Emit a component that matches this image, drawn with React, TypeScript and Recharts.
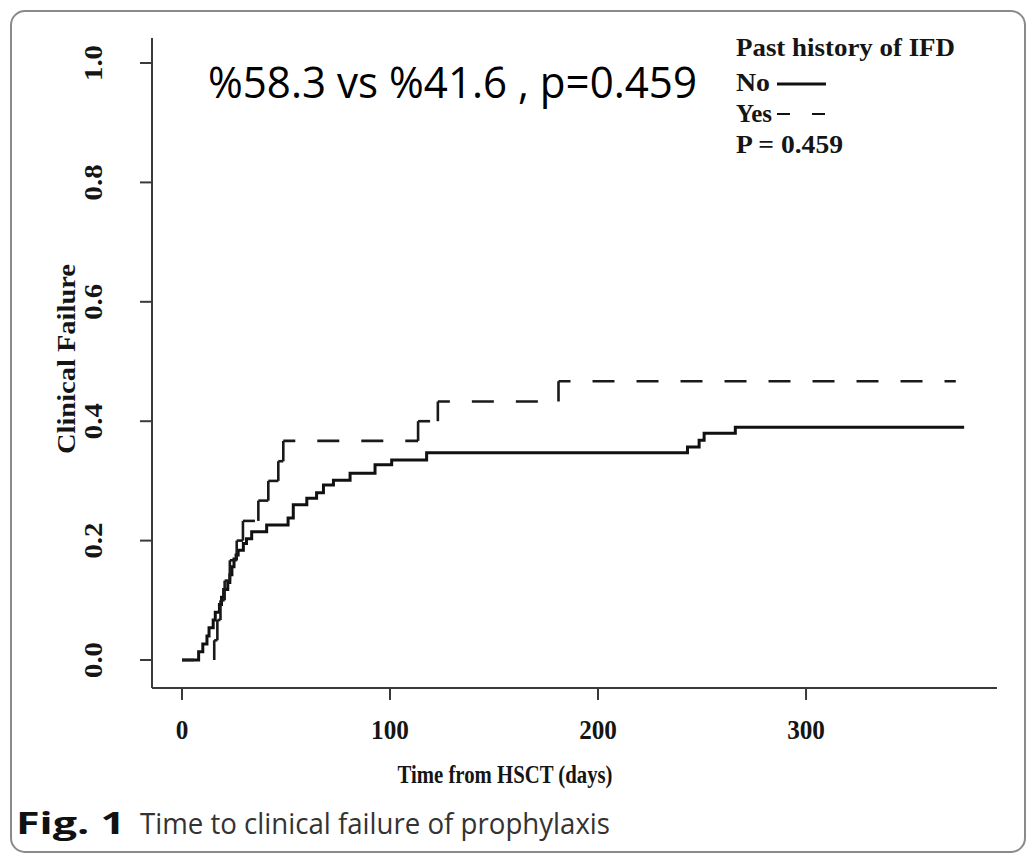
import React from "react";
import { LineChart, Line, XAxis, YAxis } from "recharts";

// ---- data ----
const noTimes = [0, 8, 10, 12, 13, 15, 16, 18, 19, 20, 22, 23, 24, 25, 26, 27, 29.5, 31, 33.5, 40.7, 51, 53.5, 60, 64.7, 68, 72.8, 80.8, 92.8, 100.8, 117.6, 243, 248.6, 251, 266, 376];
const noValues = [0, 0.014, 0.027, 0.04, 0.054, 0.067, 0.08, 0.093, 0.105, 0.118, 0.13, 0.143, 0.156, 0.169, 0.176, 0.184, 0.195, 0.203, 0.215, 0.226, 0.238, 0.26, 0.271, 0.28, 0.293, 0.301, 0.313, 0.327, 0.335, 0.347, 0.357, 0.368, 0.38, 0.39, 0.39];

const yesTimes = [0, 15.5, 17, 18.5, 20.5, 23, 26.3, 29.3, 36.7, 41.5, 46.3, 48.7, 113.5, 123, 181, 372];
const yesValues = [0, 0.033, 0.067, 0.1, 0.133, 0.167, 0.2, 0.233, 0.267, 0.3, 0.333, 0.367, 0.4, 0.433, 0.467, 0.467];

const xTicks = [0, 100, 200, 300];
const yTicks = [0, 0.2, 0.4, 0.6, 0.8, 1.0];

const xDomain = [-14.42, 391.8];
const yDomain = [-0.0469, 1.0419];

const legendTitle = "Past history of IFD";
const legendNo = "No";
const legendYes = "Yes";
const legendP = "P = 0.459";
const annotation = "%58.3 vs %41.6 , p=0.459";
const xLabel = "Time from HSCT (days)";
const yLabel = "Clinical Failure";
const captionBold = "Fig. 1";
const captionText = "Time to clinical failure of prophylaxis";

// ---- derived series ----
const noData = noTimes.map((t, i) => ({ t, v: noValues[i] }));

type Pt = { t: number; v: number };
type Piece = { pts: Pt[]; horizontal: boolean };
const yesPieces: Piece[] = [];
for (let i = 0; i < yesTimes.length - 1; i++) {
  yesPieces.push({
    pts: [
      { t: yesTimes[i], v: yesValues[i] },
      { t: yesTimes[i + 1], v: yesValues[i] },
    ],
    horizontal: true,
  });
  if (yesValues[i + 1] !== yesValues[i]) {
    yesPieces.push({
      pts: [
        { t: yesTimes[i + 1], v: yesValues[i] },
        { t: yesTimes[i + 1], v: yesValues[i + 1] },
      ],
      horizontal: false,
    });
  }
}

const SERIF = "'Liberation Serif', 'Times New Roman', serif";
const SANS = "'Open Sans', 'Noto Sans', sans-serif";
const AXIS = "#3a3a3a";
const INK = "#151515";

const YTick = (props: any) => {
  const { y, payload } = props;
  const x = 102;
  return (
    <text
      x={x}
      y={y}
      transform={`rotate(-90, ${x}, ${y})`}
      textAnchor="middle"
      fontFamily={SERIF}
      fontWeight="bold"
      fontSize={26}
      fill={INK}
      textLength={36}
      lengthAdjust="spacingAndGlyphs"
    >
      {Number(payload.value).toFixed(1)}
    </text>
  );
};

const XTick = (props: any) => {
  const { x, payload } = props;
  const s = String(payload.value);
  return (
    <text
      x={x}
      y={739}
      textAnchor="middle"
      fontFamily={SERIF}
      fontWeight="bold"
      fontSize={27}
      fill={INK}
      textLength={12.6 * s.length}
      lengthAdjust="spacingAndGlyphs"
    >
      {s}
    </text>
  );
};

export default function App() {
  return (
    <div style={{ position: "absolute", left: 0, top: 0, width: 1028, height: 859, background: "#fff" }}>
      <svg width={1028} height={859} style={{ position: "absolute", left: 0, top: 0 }}>
        <rect x={11} y={11} width={1014} height={841} rx={14} ry={14} fill="#fff" stroke="#8a8a8a" strokeWidth={2} />
      </svg>
      <div style={{ position: "absolute", left: 0, top: 0 }}>
        <LineChart width={1028} height={859} margin={{ top: 38, right: 31, left: 2, bottom: 71 }}>
          <XAxis
            type="number"
            dataKey="t"
            domain={xDomain}
            ticks={xTicks}
            allowDataOverflow
            height={100}
            tickSize={12}
            axisLine={{ stroke: AXIS, strokeWidth: 2 }}
            tickLine={{ stroke: AXIS, strokeWidth: 2 }}
            tick={<XTick />}
          />
          <YAxis
            type="number"
            dataKey="v"
            domain={yDomain}
            ticks={yTicks}
            allowDataOverflow
            width={150}
            tickSize={12}
            axisLine={{ stroke: AXIS, strokeWidth: 2 }}
            tickLine={{ stroke: AXIS, strokeWidth: 2 }}
            tick={<YTick />}
          />
          <Line
            data={noData}
            dataKey="v"
            type="stepAfter"
            stroke="#111"
            strokeWidth={3}
            dot={false}
            activeDot={false}
            isAnimationActive={false}
          />
          {yesPieces.map((piece, i) => (
            <Line
              key={`yes-${i}`}
              data={piece.pts}
              dataKey="v"
              type="linear"
              stroke="#1a1a1a"
              strokeWidth={2.6}
              strokeDasharray="22 22"
              strokeDashoffset={piece.horizontal ? 10 : 0}
              dot={false}
              activeDot={false}
              isAnimationActive={false}
            />
          ))}
        </LineChart>
      </div>
      <svg width={1028} height={859} style={{ position: "absolute", left: 0, top: 0, pointerEvents: "none" }}>
        <text x={208} y={98} fontFamily={SANS} fontSize={43} fill="#000" textLength={489} lengthAdjust="spacingAndGlyphs">
          {annotation}
        </text>
        <g fontFamily={SERIF} fontWeight="bold" fontSize={25} fill={INK}>
          <text x={736} y={56} textLength={219} lengthAdjust="spacingAndGlyphs">{legendTitle}</text>
          <text x={736} y={91} textLength={34} lengthAdjust="spacingAndGlyphs">{legendNo}</text>
          <text x={736} y={122} textLength={36} lengthAdjust="spacingAndGlyphs">{legendYes}</text>
          <text x={736} y={153} textLength={107} lengthAdjust="spacingAndGlyphs">{legendP}</text>
        </g>
        <line x1={777} y1={84} x2={826} y2={84} stroke="#111" strokeWidth={3} />
        <line x1={777} y1={114} x2={790} y2={114} stroke="#111" strokeWidth={2} />
        <line x1={812} y1={114} x2={825} y2={114} stroke="#111" strokeWidth={2} />
        <text
          x={75}
          y={359}
          transform="rotate(-90, 75, 359)"
          textAnchor="middle"
          fontFamily={SERIF}
          fontWeight="bold"
          fontSize={25}
          fill={INK}
          textLength={190}
          lengthAdjust="spacingAndGlyphs"
        >
          {yLabel}
        </text>
        <text
          x={505}
          y={783}
          textAnchor="middle"
          fontFamily={SERIF}
          fontWeight="bold"
          fontSize={26}
          fill={INK}
          textLength={215}
          lengthAdjust="spacingAndGlyphs"
        >
          {xLabel}
        </text>
        <text x={16} y={834} fontFamily={SANS} fontWeight="bold" fontSize={30} fill="#111" textLength={109} lengthAdjust="spacingAndGlyphs">
          {captionBold}
        </text>
        <text x={140} y={834} fontFamily={SANS} fontSize={30} fill="#333" textLength={470} lengthAdjust="spacingAndGlyphs">
          {captionText}
        </text>
      </svg>
    </div>
  );
}
